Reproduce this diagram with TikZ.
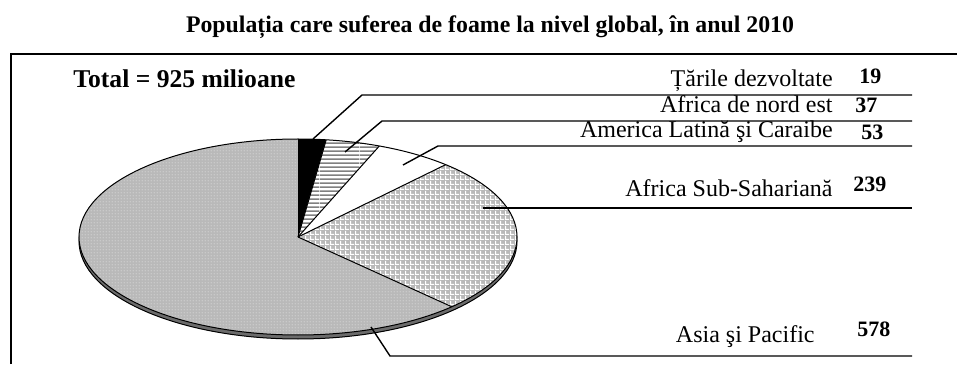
\documentclass[tikz,border=0pt]{standalone}
\usepackage{fontspec}
\setmainfont{Liberation Serif}
\usetikzlibrary{positioning, patterns.meta}

\tikzdeclarepattern{name=piedots, type=uncolored,
  bounding box={(0pt,0pt) and (1.5pt,1.5pt)}, tile size={(1.5pt,1.5pt)},
  code={\fill (0.75pt,0.75pt) circle (0.3pt);}}
\tikzdeclarepattern{name=piegrid, type=uncolored,
  bounding box={(0pt,0pt) and (2.5pt,2.5pt)}, tile size={(2.5pt,2.5pt)},
  code={\fill (0pt,0pt) rectangle (2.5pt,0.6pt); \fill (0pt,0pt) rectangle (0.6pt,2.5pt);}}
\tikzdeclarepattern{name=piestripes, type=uncolored,
  bounding box={(0pt,0pt) and (20pt,2pt)}, tile size={(20pt,2pt)},
  code={\fill (0pt,0pt) rectangle (20pt,1pt);}}

% slice from angle #1 to angle #2 around the origin
\newcommand\pieslice[2]{(0,0) -- (#1:219 and 98) arc[start angle=#1, end angle=#2, x radius=219, y radius=98] -- cycle}

\begin{document}
\begin{tikzpicture}[x=0.5pt, y=0.5pt,
    lbl/.style={anchor=base east, inner sep=0pt, font=\fontsize{12}{14}\selectfont},
    val/.style={anchor=base west, inner sep=0pt, font=\fontsize{11}{13}\selectfont\bfseries},
    leader/.style={line width=0.7pt},
    slice/.style={draw=black, line width=0.5pt, line join=round}]
    \useasboundingbox (0,0) rectangle (957,364);

    % Title and frame
    \node (title) at (490,331) [anchor=base, inner sep=0pt, font=\fontsize{11.9}{14}\selectfont\bfseries]
        {Populația care suferea de foame la nivel global, în anul 2010};
    \draw[line width=0.9pt] (11,0) -- (11,310) -- (957,310);
    \node (total) at (73,276) [anchor=base west, inner sep=0pt, font=\fontsize{12.8}{14}\selectfont\bfseries]
        {Total = 925 milioane};

    % Pie
    \begin{scope}[shift={(298,127)}]
        \filldraw[fill=gray!85!black, draw=black, line width=0.5pt] (0,-4) ellipse [x radius=219, y radius=98];
        \fill[black] \pieslice{90}{82.6};
        \fill[white] \pieslice{82.6}{68.2};
        \path[pattern=piestripes, pattern color=gray] \pieslice{82.6}{68.2};
        \fill[white] \pieslice{68.2}{47.6};
        \fill[gray!55] \pieslice{47.6}{-45.4};
        \path[pattern=piegrid, pattern color=white] \pieslice{47.6}{-45.4};
        \fill[gray!55] \pieslice{-45.4}{-270};
        \path[pattern=piedots, pattern color=white] \pieslice{-45.4}{-270};
        \foreach \a in {90, 82.6, 68.2, 47.6, -45.4}
            \draw[slice] (0,0) -- (\a:219 and 98);
        \draw[slice] (0,0) ellipse [x radius=219, y radius=98];
    \end{scope}

    % Labels
    \node (tarile) at (833,277) [lbl] {Țările dezvoltate};
    \node (tarileVal) at (859,280) [val] {19};
    \node (nordest) at (833,251) [lbl] {Africa de nord est};
    \node (nordestVal) at (855,251) [val] {37};
    \node (latina) at (833,226) [lbl] {America Latină şi Caraibe};
    \node (latinaVal) at (861,224) [val] {53};
    \node (subsah) at (833,167) [lbl] {Africa Sub-Sahariană};
    \node (subsahVal) at (853,172) [val] {239};
    \node (asia) at (815,22) [lbl] {Asia şi Pacific};
    \node (asiaVal) at (857,28) [val] {578};

    % Leaders
    \coordinate (tarilePt) at (313,225);
    \coordinate (tarileKnee) at (362,269);
    \coordinate (tarileEnd) at (912,269);
    \coordinate (nordestPt) at (345,212);
    \coordinate (nordestKnee) at (382,243);
    \coordinate (nordestEnd) at (912,243);
    \coordinate (latinaPt) at (403,199);
    \coordinate (latinaKnee) at (438,218);
    \coordinate (latinaEnd) at (912,218);
    \coordinate (subsahPt) at (483,156);
    \coordinate (subsahEnd) at (912,156);
    \coordinate (asiaPt) at (371,37);
    \coordinate (asiaKnee) at (390,8);
    \coordinate (asiaEnd) at (912,8);

    \draw[leader] (tarilePt) -- (tarileKnee) -- (tarileEnd);
    \draw[leader] (nordestPt) -- (nordestKnee) -- (nordestEnd);
    \draw[leader] (latinaPt) -- (latinaKnee) -- (latinaEnd);
    \draw[leader] (subsahPt) -- (subsahEnd);
    \draw[leader] (asiaPt) -- (asiaKnee) -- (asiaEnd);
\end{tikzpicture}
\end{document}
